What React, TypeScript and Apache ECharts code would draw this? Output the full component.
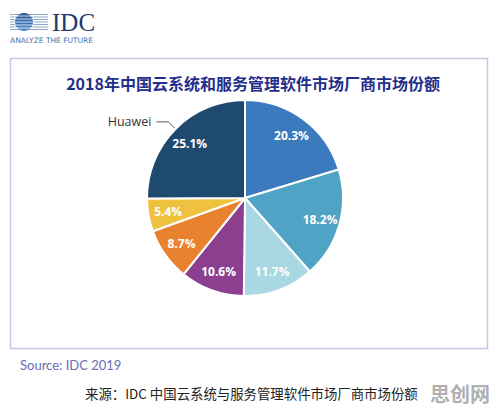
import React, { useEffect, useRef } from "react";
import * as echarts from "echarts";

const vendors = ["厂商A", "厂商B", "厂商C", "厂商D", "厂商E", "厂商F", "Huawei"];
const shares = [20.3, 18.2, 11.7, 10.6, 8.7, 5.4, 25.1];
const colors = ["#3a7abd", "#4fa4c5", "#a9d7e3", "#8c3f8f", "#e8822f", "#eec13f", "#1f4a70"];
const titleText = "2018年中国云系统和服务管理软件市场厂商市场份额";
const sourceText = "Source: IDC 2019";
const captionText = "来源：IDC 中国云系统与服务管理软件市场厂商市场份额";
const watermarkText = "思创网";

export default function App() {
  const ref = useRef<HTMLDivElement>(null);
  useEffect(() => {
    document.body.style.margin = "0";
    const chart = echarts.init(ref.current!, null, { renderer: "svg" });
    const center = [245, 198];
    const mainData = vendors.map((n, i) => {
      const item: any = { name: n, value: shares[i], itemStyle: { color: colors[i] } };
      if (n === "Huawei") {
        item.label = {
          show: true,
          position: "outside",
          formatter: "{b}",
          color: "#333",
          fontSize: 12.5,
          fontFamily: "Open Sans",
        };
        item.labelLine = { show: true, length: 10, length2: 12, lineStyle: { color: "#555", width: 1 } };
      }
      return item;
    });
    const stripeYs = [14.5, 17, 19.5, 22, 24.5, 27, 29.5];
    const logo: any[] = [];
    stripeYs.forEach((y) => {
      logo.push({ type: "line", shape: { x1: 10, y1: y, x2: 48, y2: y }, style: { stroke: "#8aa6cc", lineWidth: 1 } });
    });
    logo.push({
      type: "circle",
      shape: { cx: 24, cy: 22, r: 9 },
      style: {
        fill: new echarts.graphic.LinearGradient(0, 0, 0, 1, [
          { offset: 0, color: "#1f4f8f" },
          { offset: 1, color: "#4e8fd0" },
        ]),
      },
    });
    [16, 19, 22, 25, 28].forEach((y) => {
      logo.push({ type: "line", shape: { x1: 14, y1: y, x2: 34, y2: y }, style: { stroke: "#ffffff", lineWidth: 0.8 } });
    });
    logo.push({
      type: "text",
      x: 52,
      y: 22,
      style: { text: "IDC", fill: "#1d3a6c", font: "25px 'Liberation Serif'", textVerticalAlign: "middle" },
    });
    logo.push({
      type: "text",
      x: 10,
      y: 40,
      style: { text: "ANALYZE THE FUTURE", fill: "#4a74ad", font: "7.5px 'DejaVu Sans'", textVerticalAlign: "middle" },
    });

    chart.setOption({
      animation: false,
      backgroundColor: "#ffffff",
      title: {
        text: titleText,
        left: 248,
        textAlign: "center",
        top: 70,
        textStyle: { fontSize: 16, fontWeight: "bold", color: "#1f2f8c", fontFamily: "Noto Sans CJK SC" },
      },
      graphic: [
        ...logo,
        {
          type: "rect",
          shape: { x: 10.5, y: 58.5, width: 477, height: 290 },
          style: { fill: "none", stroke: "#c6c6e8", lineWidth: 1.5 },
          z: -1,
        },
        {
          type: "text",
          x: 20,
          y: 365,
          style: { text: sourceText, fill: "#6b6bb3", font: "13px Lato", textVerticalAlign: "middle" },
        },
        {
          type: "text",
          x: 85,
          y: 393,
          style: { text: captionText, fill: "#222", font: "13.4px 'Noto Sans CJK SC'", textVerticalAlign: "middle" },
        },
        {
          type: "text",
          x: 430,
          y: 393,
          style: { text: watermarkText, fill: "#b0b0b0", font: "bold 20px 'Noto Sans CJK SC'", textVerticalAlign: "middle" },
        },
      ],
      series: [
        {
          type: "pie",
          center,
          radius: [0, 98],
          startAngle: 90,
          clockwise: true,
          avoidLabelOverlap: false,
          label: { show: false },
          labelLine: { show: false },
          itemStyle: { borderColor: "#ffffff", borderWidth: 2 },
          emphasis: { disabled: true },
          data: mainData,
        },
        {
          type: "pie",
          center,
          radius: [52, 98],
          startAngle: 90,
          clockwise: true,
          silent: true,
          avoidLabelOverlap: false,
          itemStyle: { color: "rgba(0,0,0,0)" },
          label: {
            show: true,
            position: "inside",
            formatter: "{c}%",
            color: "#ffffff",
            fontSize: 12,
            fontWeight: "bold",
            fontFamily: "Open Sans",
          },
          labelLine: { show: false },
          data: vendors.map((n, i) => ({ name: n, value: shares[i] })),
        },
      ],
    });
    return () => chart.dispose();
  }, []);
  return <div ref={ref} style={{ position: "fixed", left: 0, top: 0, width: 496, height: 417 }} />;
}
